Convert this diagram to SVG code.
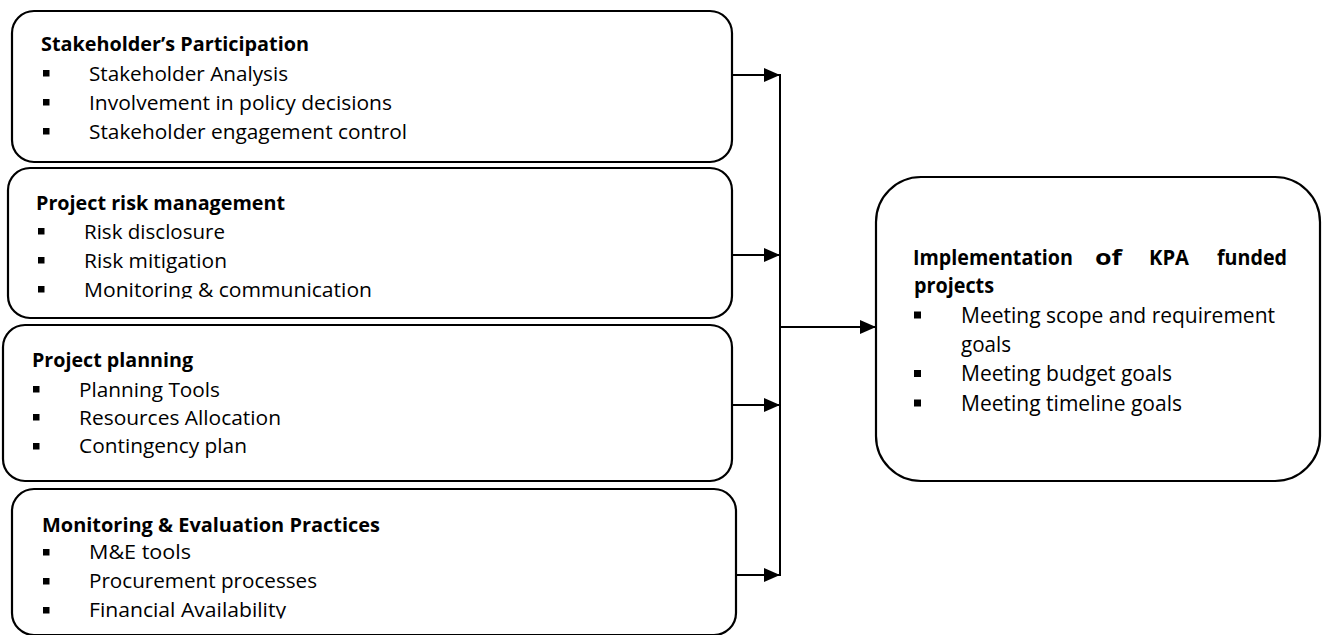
<svg xmlns="http://www.w3.org/2000/svg" width="1324" height="635" viewBox="0 0 1324 635">
<style>
.box{fill:#fff;stroke:#000;stroke-width:2.2}
.t{font-family:"Open Sans","Liberation Sans",sans-serif;font-size:20px;fill:#000}
.b{font-weight:bold}
.r{font-size:21px}
.bl{fill:#000}
.c{stroke:#000;stroke-width:2;fill:none}
</style>
<defs>
<marker id="ah" markerUnits="userSpaceOnUse" markerWidth="16" markerHeight="14" refX="16" refY="7" orient="auto">
<path d="M0,0 L16,7 L0,14 Z" fill="#000"/>
</marker>
<clipPath id="clip2"><rect x="0" y="0" width="1324" height="298.5"/></clipPath>
<clipPath id="clip4"><rect x="0" y="0" width="1324" height="618.5"/></clipPath>
</defs>
<rect width="1324" height="635" fill="#fff"/>

<g id="connectors">
<line class="c" x1="731" y1="75" x2="780" y2="75" marker-end="url(#ah)"/>
<line class="c" x1="731" y1="255" x2="780" y2="255" marker-end="url(#ah)"/>
<line class="c" x1="731" y1="405" x2="780" y2="405" marker-end="url(#ah)"/>
<line class="c" x1="735" y1="575" x2="780" y2="575" marker-end="url(#ah)"/>
<line class="c" x1="780" y1="74" x2="780" y2="576"/>
<line class="c" x1="780" y1="327" x2="876" y2="327" marker-end="url(#ah)"/>
</g>

<g id="node-stakeholder">
<rect class="box" x="12" y="11" width="720" height="151" rx="22" ry="22"/>
<text class="t b" x="41" y="51" textLength="268" lengthAdjust="spacingAndGlyphs">Stakeholder’s Participation</text>
<rect class="bl" x="43" y="70" width="6.5" height="6.5"/>
<rect class="bl" x="43" y="99" width="6.5" height="6.5"/>
<rect class="bl" x="43" y="128" width="6.5" height="6.5"/>
<text class="t" x="89" y="81" textLength="199" lengthAdjust="spacingAndGlyphs">Stakeholder Analysis</text>
<text class="t" x="89" y="110" textLength="303" lengthAdjust="spacingAndGlyphs">Involvement in policy decisions</text>
<text class="t" x="89" y="139" textLength="318" lengthAdjust="spacingAndGlyphs">Stakeholder engagement control</text>
</g>

<g id="node-risk">
<rect class="box" x="8" y="168" width="724" height="150" rx="22" ry="22"/>
<text class="t b" x="36" y="210" textLength="249" lengthAdjust="spacingAndGlyphs">Project risk management</text>
<rect class="bl" x="38" y="228" width="6.5" height="6.5"/>
<rect class="bl" x="38" y="257" width="6.5" height="6.5"/>
<rect class="bl" x="38" y="286" width="6.5" height="6.5"/>
<text class="t" x="84" y="239" textLength="141" lengthAdjust="spacingAndGlyphs">Risk disclosure</text>
<text class="t" x="84" y="268" textLength="143" lengthAdjust="spacingAndGlyphs">Risk mitigation</text>
<text class="t" x="84" y="297" textLength="288" lengthAdjust="spacingAndGlyphs" clip-path="url(#clip2)">Monitoring &amp; communication</text>
</g>

<g id="node-planning">
<rect class="box" x="3" y="325" width="729" height="156" rx="22" ry="22"/>
<text class="t b" x="32" y="367" textLength="161" lengthAdjust="spacingAndGlyphs">Project planning</text>
<rect class="bl" x="33" y="386" width="6.5" height="6.5"/>
<rect class="bl" x="33" y="414" width="6.5" height="6.5"/>
<rect class="bl" x="33" y="443" width="6.5" height="6.5"/>
<text class="t" x="79" y="397" textLength="141" lengthAdjust="spacingAndGlyphs">Planning Tools</text>
<text class="t" x="79" y="425" textLength="202" lengthAdjust="spacingAndGlyphs">Resources Allocation</text>
<text class="t" x="79" y="453" textLength="168" lengthAdjust="spacingAndGlyphs">Contingency plan</text>
</g>

<g id="node-me">
<rect class="box" x="12" y="489" width="724" height="146" rx="22" ry="22"/>
<text class="t b" x="42" y="532" textLength="338" lengthAdjust="spacingAndGlyphs">Monitoring &amp; Evaluation Practices</text>
<rect class="bl" x="43" y="549" width="6.5" height="6.5"/>
<rect class="bl" x="43" y="578" width="6.5" height="6.5"/>
<rect class="bl" x="43" y="607" width="6.5" height="6.5"/>
<text class="t" x="89" y="559" textLength="102" lengthAdjust="spacingAndGlyphs">M&amp;E tools</text>
<text class="t" x="89" y="588" textLength="228" lengthAdjust="spacingAndGlyphs">Procurement processes</text>
<text class="t" x="89" y="617" textLength="197" lengthAdjust="spacingAndGlyphs" clip-path="url(#clip4)">Financial Availability</text>
</g>

<g id="node-implementation">
<rect class="box" x="876" y="177" width="444" height="304" rx="45" ry="45"/>
<text class="t r b" x="913" y="265" textLength="160" lengthAdjust="spacingAndGlyphs">Implementation</text>
<text class="t r b" x="1095" y="265" textLength="27" lengthAdjust="spacingAndGlyphs">of</text>
<text class="t r b" x="1149" y="265" textLength="40" lengthAdjust="spacingAndGlyphs">KPA</text>
<text class="t r b" x="1217" y="265" textLength="70" lengthAdjust="spacingAndGlyphs">funded</text>
<text class="t r b" x="914" y="293" textLength="80" lengthAdjust="spacingAndGlyphs">projects</text>
<rect class="bl" x="914" y="311.5" width="7" height="7"/>
<rect class="bl" x="914" y="370" width="7" height="7"/>
<rect class="bl" x="914" y="399.5" width="7" height="7"/>
<text class="t r" x="961" y="322.5" textLength="314" lengthAdjust="spacingAndGlyphs">Meeting scope and requirement</text>
<text class="t r" x="961" y="351.5" textLength="50" lengthAdjust="spacingAndGlyphs">goals</text>
<text class="t r" x="961" y="381" textLength="211" lengthAdjust="spacingAndGlyphs">Meeting budget goals</text>
<text class="t r" x="961" y="410.5" textLength="221" lengthAdjust="spacingAndGlyphs">Meeting timeline goals</text>
</g>
</svg>
